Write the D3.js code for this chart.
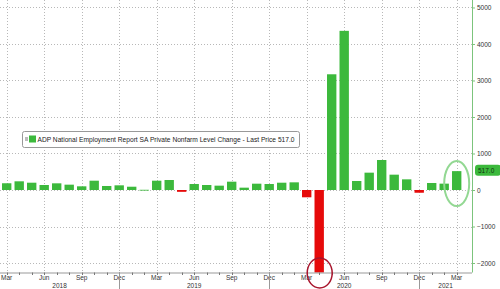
<!DOCTYPE html>
<html>
<head>
<meta charset="utf-8">
<script src="https://cdn.jsdelivr.net/npm/d3@7"></script>
<style>
  body { margin: 0; background: #fff; }
  svg { display: block; font-family: "Liberation Sans", Arial, sans-serif; }
</style>
</head>
<body>
<div id="chart"></div>
<script>
// monthly ADP private payroll change, thousands
var months = [
  "2018-03", "2018-04", "2018-05", "2018-06", "2018-07", "2018-08", "2018-09", "2018-10", "2018-11", "2018-12",
  "2019-01", "2019-02", "2019-03", "2019-04", "2019-05", "2019-06", "2019-07", "2019-08", "2019-09", "2019-10", "2019-11", "2019-12",
  "2020-01", "2020-02", "2020-03", "2020-04", "2020-05", "2020-06", "2020-07", "2020-08", "2020-09", "2020-10", "2020-11", "2020-12",
  "2021-01", "2021-02", "2021-03"
];
var values = [
  185, 238, 200, 137, 183, 146, 101, 255, 110, 128,
  90, 6, 255, 274, -50, 164, 137, 119, 228, 64, 173, 164,
  200, 210, -200, -19557, 3170, 4360, 247, 475, 822, 420, 292, -75,
  192, 174, 517
];
var yTicks = [-2000, -1000, 0, 1000, 2000, 3000, 4000, 5000];
var quarterMonths = ["03", "06", "09", "12"];
var monthNames = { "03": "Mar", "06": "Jun", "09": "Sep", "12": "Dec" };
var years = ["2018", "2019", "2020", "2021"];
var lastPrice = 517.0;
var legendText = "ADP National Employment Report SA Private Nonfarm Level Change - Last Price 517.0";

var width = 500, height = 289;
var plotRight = 472, plotBottom = 272.5;

var data = months.map(function(m, i) { return { month: m, value: values[i] }; });

var x = d3.scaleBand()
    .domain(months)
    .range([0.45, 462.95])
    .paddingInner(0.25)
    .paddingOuter(0.125);

var y = d3.scaleLinear()
    .domain([-2260, 5205])
    .range([plotBottom, 0]);

function cx(m) { return x(m) + x.bandwidth() / 2; }

var svg = d3.select("#chart").append("svg")
    .attr("width", width)
    .attr("height", height);

svg.append("defs").append("clipPath").attr("id", "plot")
  .append("rect").attr("x", 0).attr("y", 0).attr("width", plotRight).attr("height", plotBottom);

// grid
var quarters = months.filter(function(m) { return quarterMonths.indexOf(m.slice(5)) >= 0; });

svg.append("g").selectAll("line")
    .data(yTicks)
  .enter().append("line")
    .attr("x1", 0).attr("x2", plotRight)
    .attr("y1", function(d) { return Math.round(y(d)) + 0.5; })
    .attr("y2", function(d) { return Math.round(y(d)) + 0.5; })
    .attr("stroke", "#b8b8b8")
    .attr("stroke-dasharray", "1,2");

svg.append("g").selectAll("line")
    .data(quarters)
  .enter().append("line")
    .attr("x1", function(d) { return Math.round(cx(d)) + 0.5; })
    .attr("x2", function(d) { return Math.round(cx(d)) + 0.5; })
    .attr("y1", 0).attr("y2", plotBottom)
    .attr("stroke", "#b8b8b8")
    .attr("stroke-dasharray", "1,2");

// bars
svg.append("g").attr("clip-path", "url(#plot)")
  .selectAll("rect")
    .data(data)
  .enter().append("rect")
    .attr("x", function(d) { return x(d.month); })
    .attr("width", x.bandwidth())
    .attr("y", function(d) { return y(Math.max(0, d.value)); })
    .attr("height", function(d) { return Math.max(0.8, Math.abs(y(d.value) - y(0))); })
    .attr("fill", function(d) { return d.value >= 0 ? "#3cb93c" : "#e60a0a"; });

// right axis
var yAxis = d3.axisRight(y).tickValues(yTicks).tickSize(3).tickPadding(2)
    .tickFormat(d3.format("d"));
var ya = svg.append("g")
    .attr("transform", "translate(" + plotRight + ",0)")
    .call(yAxis);
ya.select(".domain").attr("stroke", "#7cc47c").attr("d", "M0.5,0V" + plotBottom);
ya.selectAll(".tick line").attr("stroke", "#7cc47c");
ya.selectAll(".tick text").attr("font-size", 6.5).attr("fill", "#333")
    .attr("font-family", "Liberation Sans, Arial, sans-serif");

// last price tag
var tagY = y(lastPrice);
svg.append("rect")
    .attr("x", 475).attr("y", tagY - 6.5)
    .attr("width", 26).attr("height", 11).attr("rx", 3)
    .attr("fill", "#3cb93c");
svg.append("text")
    .attr("x", 478).attr("y", tagY + 1.5)
    .attr("font-size", 6.5).attr("fill", "#123012")
    .text(d3.format(".1f")(lastPrice));

// bottom axis
svg.append("line")
    .attr("x1", 0).attr("x2", plotRight)
    .attr("y1", plotBottom + 0.5).attr("y2", plotBottom + 0.5)
    .attr("stroke", "#999");

svg.append("g").selectAll("line")
    .data(months)
  .enter().append("line")
    .attr("x1", function(d) { return Math.round(cx(d)) + 0.5; })
    .attr("x2", function(d) { return Math.round(cx(d)) + 0.5; })
    .attr("y1", plotBottom).attr("y2", plotBottom + 2.5)
    .attr("stroke", "#777");

svg.append("g").selectAll("text")
    .data(quarters)
  .enter().append("text")
    .attr("x", function(d) { return cx(d); })
    .attr("y", 280)
    .attr("text-anchor", "middle")
    .attr("font-size", 6.5).attr("fill", "#333")
    .text(function(d) { return monthNames[d.slice(5)]; });

// year separators at December
var decs = months.filter(function(m) { return m.slice(5) === "12"; });
svg.append("g").selectAll("line")
    .data(decs)
  .enter().append("line")
    .attr("x1", function(d) { return Math.round(cx(d)) + 0.5; })
    .attr("x2", function(d) { return Math.round(cx(d)) + 0.5; })
    .attr("y1", plotBottom).attr("y2", height)
    .attr("stroke", "#999");

var edges = [0].concat(decs.map(cx)).concat([plotRight]);
svg.append("g").selectAll("text")
    .data(years)
  .enter().append("text")
    .attr("x", function(d, i) { return (edges[i] + edges[i + 1]) / 2; })
    .attr("y", 288)
    .attr("text-anchor", "middle")
    .attr("font-size", 6.5).attr("fill", "#333")
    .text(function(d) { return d; });

// legend
var lg = svg.append("g").attr("transform", "translate(22,131)");
lg.append("rect")
    .attr("x", 0.5).attr("y", 0.5).attr("width", 277).attr("height", 16).attr("rx", 2)
    .attr("fill", "#fff").attr("stroke", "#999");
lg.append("rect").attr("x", 3).attr("y", 6).attr("width", 3).attr("height", 4).attr("fill", "#bbb");
lg.append("rect").attr("x", 7).attr("y", 4.5).attr("width", 7).attr("height", 7).attr("fill", "#3cb93c");
lg.append("text")
    .attr("x", 15.5).attr("y", 11)
    .attr("font-size", 6.7).attr("fill", "#222")
    .attr("textLength", 257).attr("lengthAdjust", "spacingAndGlyphs")
    .text(legendText);

// highlight ellipses
svg.append("ellipse")
    .attr("cx", cx("2021-03")).attr("cy", 183.5)
    .attr("rx", 12.5).attr("ry", 22.5)
    .attr("fill", "none").attr("stroke", "#93d893").attr("stroke-width", 2);
svg.append("ellipse")
    .attr("cx", cx("2020-04") + 0.5).attr("cy", 273)
    .attr("rx", 12.5).attr("ry", 15)
    .attr("fill", "none").attr("stroke", "#a8142c").attr("stroke-width", 1.5);
</script>
</body>
</html>
